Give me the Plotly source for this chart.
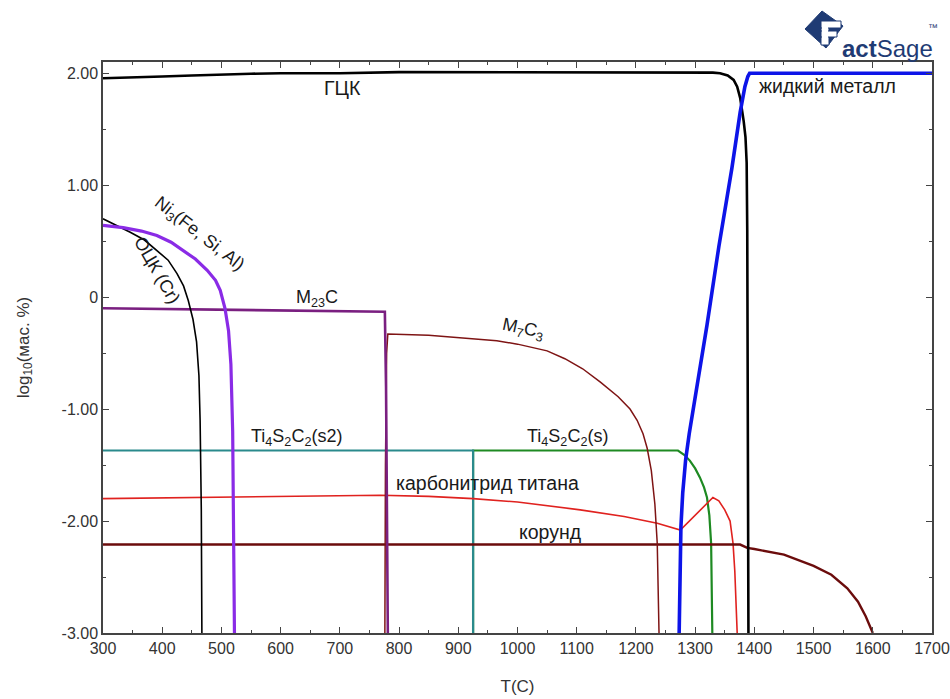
import plotly.graph_objects as go

# ---- data (T in C, log10 of mass %) ----
fcc_T = [300, 350, 400, 450, 500, 550, 600, 700, 800, 1000, 1200, 1300, 1330, 1342, 1355, 1365, 1371, 1376, 1379, 1382, 1385, 1387, 1388, 1389, 1390]
fcc_y = [1.955, 1.96, 1.97, 1.98, 1.99, 1.995, 2.0, 2.0, 2.01, 2.01, 2.01, 2.01, 2.005, 2.0, 1.98, 1.94, 1.88, 1.78, 1.69, 1.57, 1.43, 1.2, 0.6, -0.8, -3.0]

bcc_T = [300, 320, 346, 370, 391, 410, 425, 436, 444, 452, 458, 462, 464, 466, 467]
bcc_y = [0.70, 0.65, 0.58, 0.51, 0.42, 0.33, 0.21, 0.10, -0.03, -0.20, -0.40, -0.70, -1.1, -1.9, -3.0]

ni3_T = [300, 334, 365, 391, 415, 435, 456, 476, 490, 498, 506, 512, 516, 519, 521, 522]
ni3_y = [0.64, 0.62, 0.59, 0.55, 0.49, 0.42, 0.34, 0.24, 0.15, 0.06, -0.10, -0.30, -0.6, -1.2, -2.2, -3.0]

m23c_T = [300, 500, 700, 776, 778, 780, 781]
m23c_y = [-0.10, -0.11, -0.12, -0.13, -0.8, -2.5, -3.0]

m7c3_T = [776, 777, 779, 781, 850, 900, 965, 1000, 1050, 1080, 1110, 1140, 1170, 1190, 1202, 1212, 1219, 1226, 1232, 1236, 1238, 1239]
m7c3_y = [-3.0, -1.5, -0.5, -0.33, -0.34, -0.36, -0.39, -0.42, -0.48, -0.55, -0.64, -0.76, -0.89, -1.0, -1.1, -1.22, -1.35, -1.55, -1.85, -2.2, -2.6, -3.0]

ti_s2_T = [300, 925, 925]
ti_s2_y = [-1.37, -1.37, -3.0]

ti_s_T = [925, 925, 1271, 1282, 1291, 1300, 1308, 1315, 1320, 1324, 1327, 1328.5, 1329]
ti_s_y = [-3.0, -1.37, -1.37, -1.41, -1.46, -1.53, -1.61, -1.70, -1.79, -1.95, -2.2, -2.6, -3.0]

tin_T = [300, 450, 600, 768, 850, 925, 1000, 1106, 1180, 1236, 1275, 1300, 1330, 1340, 1350, 1359, 1364, 1367, 1369, 1371]
tin_y = [-1.80, -1.79, -1.78, -1.77, -1.78, -1.80, -1.83, -1.90, -1.96, -2.02, -2.08, -1.95, -1.79, -1.82, -1.90, -2.0, -2.2, -2.45, -2.7, -3.0]

cor_T = [300, 800, 1376, 1388, 1400, 1450, 1500, 1530, 1557, 1575, 1588, 1600]
cor_y = [-2.21, -2.21, -2.21, -2.24, -2.25, -2.30, -2.40, -2.48, -2.60, -2.72, -2.85, -3.0]

liq_T = [1273, 1273.5, 1274.5, 1276, 1279, 1284, 1290, 1297, 1320, 1340, 1362, 1376, 1384, 1389, 1392, 1700]
liq_y = [-3.0, -2.7, -2.35, -2.05, -1.75, -1.45, -1.22, -1.0, -0.25, 0.45, 1.15, 1.65, 1.88, 1.97, 2.0, 2.0]

x_ticks = [300, 400, 500, 600, 700, 800, 900, 1000, 1100, 1200, 1300, 1400, 1500, 1600, 1700]
y_ticks = [-3, -2, -1, 0, 1, 2]
y_ticktext = ["-3.00", "-2.00", "-1.00", "0", "1.00", "2.00"]

labels = [
    ("ГЦК", 705, 1.87, 0, 19.5),
    ("жидкий металл", 1523, 1.89, 0, 19.5),
    ("Ni<sub>3</sub>(Fe, Si, Al)", 462, 0.56, 38, 18),
    ("ОЦК (Cr)", 391, 0.24, 60, 18),
    ("M<sub>23</sub>C", 661, -0.01, 0, 18),
    ("M<sub>7</sub>C<sub>3</sub>", 1010, -0.29, 12, 18),
    ("Ti<sub>4</sub>S<sub>2</sub>C<sub>2</sub>(s2)", 626, -1.25, 0, 18),
    ("Ti<sub>4</sub>S<sub>2</sub>C<sub>2</sub>(s)", 1084, -1.25, 0, 18),
    ("карбонитрид титана", 950, -1.66, 0, 19.5),
    ("корунд", 1055, -2.10, 0, 19.5),
]

series = [
    (ti_s_T, ti_s_y, "#1e8a22", 2.2),
    (ti_s2_T, ti_s2_y, "#2a8a8c", 2.2),
    (tin_T, tin_y, "#e0221f", 1.6),
    (cor_T, cor_y, "#6b0c0c", 2.4),
    (m7c3_T, m7c3_y, "#7e1414", 1.5),
    (m23c_T, m23c_y, "#7a1f80", 2.6),
    (bcc_T, bcc_y, "#000000", 1.6),
    (ni3_T, ni3_y, "#8a2be6", 3.2),
    (fcc_T, fcc_y, "#000000", 2.6),
    (liq_T, liq_y, "#0d14e8", 3.6),
]

fig = go.Figure()
for T, y, c, w in series:
    fig.add_trace(go.Scatter(x=T, y=y, mode="lines", line=dict(color=c, width=w),
                             showlegend=False, hoverinfo="skip"))

FONT = "Liberation Sans, Arial, sans-serif"
for txt, x, y, ang, sz in labels:
    fig.add_annotation(x=x, y=y, text=txt, showarrow=False, textangle=ang,
                       font=dict(family=FONT, size=sz, color="#1a1a1a"))

# ---- plot geometry (screen px; body margin removed below) ----
W, H = 950, 699
L, R, T0, B = 103, 932, 62, 633


def px(x):
    return (x - L) / (R - L)


def py(y):
    return (B - y) / (B - T0)


NAVY = "#1f3b74"
# FactSage logo (approximation): navy diamond + white "F" + "actSage"
pts = [(805, 29), (822, 11), (843, 26), (826, 48)]
path = "M " + " L ".join(f"{px(a)},{py(b)}" for a, b in pts) + " Z"
fig.add_shape(type="path", path=path, xref="paper", yref="paper",
              fillcolor=NAVY, line=dict(color=NAVY, width=1))
for x0, y0, x1, y1 in [(821, 21, 829, 45), (821, 21, 841, 28), (821, 31, 837, 37)]:
    fig.add_shape(type="rect", xref="paper", yref="paper",
                  x0=px(x0), x1=px(x1), y0=py(y1), y1=py(y0),
                  fillcolor="white", line=dict(color=NAVY, width=1))
fig.add_shape(type="rect", xref="paper", yref="paper",
              x0=px(822), x1=px(828), y0=py(44), y1=py(22),
              fillcolor="white", line=dict(width=0))
fig.add_shape(type="rect", xref="paper", yref="paper",
              x0=px(822), x1=px(836), y0=py(36), y1=py(32),
              fillcolor="white", line=dict(width=0))
fig.add_annotation(x=px(840), y=py(33), xref="paper", yref="paper", xanchor="left",
                   text="<b>act</b>Sage", showarrow=False,
                   font=dict(family="Liberation Sans", size=24, color=NAVY))
fig.add_annotation(x=px(926), y=py(20), xref="paper", yref="paper", xanchor="left",
                   text="™", showarrow=False,
                   font=dict(family="Liberation Sans", size=10, color=NAVY))

axis_common = dict(showgrid=False, zeroline=False, showline=True, linecolor="#444444",
                   linewidth=1.5, mirror="ticks", ticks="inside", ticklen=6,
                   tickwidth=1.2, tickcolor="#444444", automargin=False,
                   tickfont=dict(family=FONT, size=16, color="#333333"))

fig.update_layout(
    width=W, height=H,
    margin=dict(l=L, r=W - R, t=T0, b=H - B),
    paper_bgcolor="white", plot_bgcolor="white",
    xaxis=dict(range=[300, 1700], tickvals=x_ticks,
               minor=dict(ticks="inside", ticklen=3, dtick=50, tick0=300, tickcolor="#444444"),
               title=dict(text="T(C)", font=dict(family=FONT, size=17, color="#333333"), standoff=24),
               **axis_common),
    yaxis=dict(range=[-3, 2.1], tickvals=y_ticks, ticktext=y_ticktext,
               minor=dict(ticks="inside", ticklen=3, dtick=0.5, tick0=0, tickcolor="#444444"),
               title=dict(text="log<sub>10</sub>(мас. %)", font=dict(family=FONT, size=17, color="#333333"), standoff=28),
               **axis_common),
)

fig.write_html("out.html", config={"displayModeBar": False},
               post_script="document.body.style.margin='0';document.body.style.overflow='hidden';")
